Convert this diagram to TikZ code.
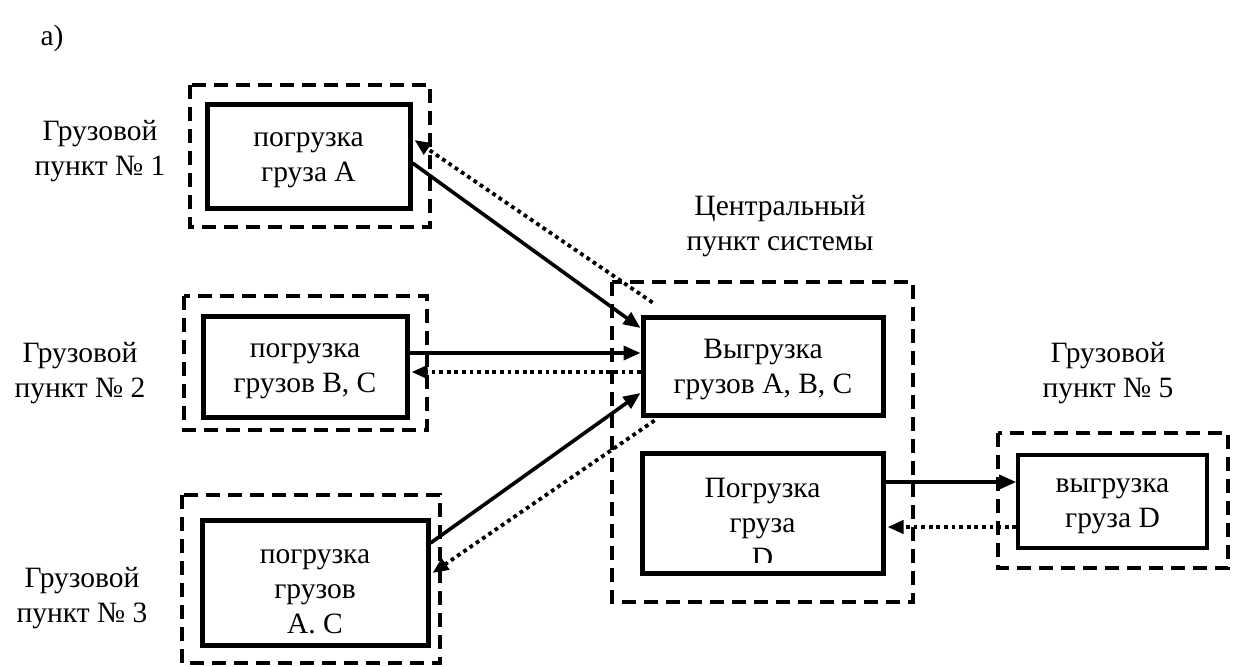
\documentclass[tikz,border=0pt]{standalone}
\usepackage{fontspec}
\setmainfont{Liberation Serif}
\usetikzlibrary{arrows.meta,calc}

\begin{document}
\begin{tikzpicture}[x=1pt,y=-1pt,
  txt/.style={font=\fontsize{29.5}{35}\selectfont},
  group/.style={draw, line width=3.8pt, dash pattern=on 14pt off 8pt},
  box/.style={draw, line width=5pt, fill=white, inner sep=0pt, align=center, txt},
  thinbox/.style={box, line width=3.6pt},
  lab/.style={align=center, inner sep=0pt, txt},
  flow/.style={line width=3.6pt, -{Triangle[length=17pt,width=14pt]}},
  back/.style={line width=3.8pt, dash pattern=on 3.8pt off 3.8pt, -{Triangle[length=16pt,width=13pt]}}]

\useasboundingbox[fill=white] (0,0) rectangle (1241,666);

% dashed outlines of the loading points
\draw[group] (190,85) rectangle (430,227);
\draw[group] (184,296) rectangle (427,430);
\draw[group] (182,495) rectangle (440,663);
\draw[group] (612,282) rectangle (913,602);
\draw[group] (998,433) rectangle (1228,568);

% captions
\node[lab] (cap) at (52,38) {а)};
\node[lab] (l1) at (100,151) {Грузовой\\пункт № 1};
\node[lab] (l2) at (80,373) {Грузовой\\пункт № 2};
\node[lab] (l3) at (82,598) {Грузовой\\пункт № 3};
\node[lab] (lc) at (780,226) {Центральный\\пункт системы};
\node[lab] (l5) at (1108,373) {Грузовой\\пункт № 5};

% operation boxes
\node[box, minimum width=203pt, minimum height=103pt] (b1) at (308.5,156.5) {};
\node[lab] (b1t) at (308.5,160) {погрузка\\груза А};
\node[box, minimum width=204pt, minimum height=101pt] (b2) at (305,366.5) {};
\node[lab] (b2t) at (305,371) {погрузка\\грузов В, С};
\node[box, minimum width=226pt, minimum height=125pt] (b3) at (315,582.5) {};
\node[lab] (b3t) at (315,592) {погрузка\\грузов\\А. С};
\node[box, minimum width=240pt, minimum height=98pt] (V) at (763,366) {};
\node[lab] (Vt) at (763,370) {Выгрузка\\грузов А, В, С};
\node[box, minimum width=241pt, minimum height=120pt] (P) at (762.5,513) {};
\begin{scope}
  \clip ($(P.north west)+(3,3)$) rectangle ($(P.south east)+(-3,-13)$);
  \node[lab] (Pt) at (762.5,523) {Погрузка\\груза\\D};
\end{scope}
\node[thinbox, minimum width=189pt, minimum height=93pt] (Dx) at (1112.5,501.5) {};
\node[lab] (Dxt) at (1112.5,506) {выгрузка\\груза D};

% forward (solid) and return (dotted) flows
\draw[flow] ($(b1.east)+(0,6.5)$) -- ($(V.west)+(0,-38)$);
\draw[back] ($(V.north west)+(12,-12)$) -- ($(b1.east)+(2,-16.5)$);
\draw[flow] ($(b2.east)+(0,-13.5)$) -- ($(V.west)+(0,-13)$);
\draw[back] ($(V.west)+(0,6)$) -- ($(b2.east)+(2,5.5)$);
\draw[flow] ($(b3.east)+(0,-39.5)$) -- ($(V.west)+(0,27)$);
\draw[back] ($(V.south west)+(14,3)$) -- ($(b3.east)+(2,-9.5)$);
\draw[flow] ($(P.east)+(0,-31)$) -- ($(Dx.west)+(0,-19.5)$);
\draw[back] ($(Dx.west)+(0,25.5)$) -- ($(P.east)+(2,14)$);
\end{tikzpicture}
\end{document}
